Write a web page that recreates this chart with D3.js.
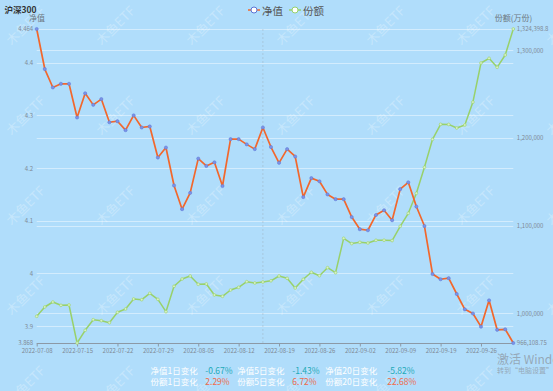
<!DOCTYPE html>
<html><head><meta charset="utf-8">
<script src="https://cdn.jsdelivr.net/npm/d3@7"></script>
<style>
html,body{margin:0;padding:0;background:#b0ddfb;}
svg{display:block;}
</style></head>
<body>
<svg id="c" width="553" height="391"></svg>
<script>
const dates = ["2022-07-08","2022-07-11","2022-07-12","2022-07-13","2022-07-14","2022-07-15","2022-07-18","2022-07-19","2022-07-20","2022-07-21","2022-07-22","2022-07-25","2022-07-26","2022-07-27","2022-07-28","2022-07-29","2022-08-01","2022-08-02","2022-08-03","2022-08-04","2022-08-05","2022-08-08","2022-08-09","2022-08-10","2022-08-11","2022-08-12","2022-08-15","2022-08-16","2022-08-17","2022-08-18","2022-08-19","2022-08-22","2022-08-23","2022-08-24","2022-08-25","2022-08-26","2022-08-29","2022-08-30","2022-08-31","2022-09-01","2022-09-02","2022-09-05","2022-09-06","2022-09-07","2022-09-08","2022-09-09","2022-09-13","2022-09-14","2022-09-15","2022-09-16","2022-09-19","2022-09-20","2022-09-21","2022-09-22","2022-09-23","2022-09-26","2022-09-27","2022-09-28","2022-09-29","2022-09-30"];
const netValue = [4.464,4.388,4.353,4.360,4.360,4.296,4.342,4.320,4.331,4.287,4.289,4.272,4.300,4.277,4.279,4.220,4.239,4.167,4.122,4.153,4.218,4.204,4.211,4.166,4.255,4.255,4.245,4.236,4.277,4.240,4.210,4.236,4.222,4.145,4.181,4.175,4.150,4.141,4.141,4.107,4.084,4.082,4.111,4.120,4.101,4.160,4.173,4.127,4.090,3.999,3.989,3.991,3.961,3.932,3.924,3.899,3.949,3.893,3.894,3.868];
const shares = [996575,1007187,1012892,1009127,1009469,966108.75,980600,992696,991555,989273,1001140,1004905,1016315,1015517,1022819,1015973,1001824,1030807,1039136,1042560,1033089,1033500,1020880,1019396,1026585,1029666,1036056,1034572,1035713,1037083,1042560,1039935,1028867,1038794,1046782,1042902,1052030,1046325,1085577,1079556,1081013,1080214,1083295,1083400,1083000,1099270,1114104,1136924,1166592,1198541,1215657,1215500,1211435,1214858,1241004,1285603,1290966,1280697,1294749,1324398.8];
const leftTicks = [3.868,3.9,4,4.1,4.2,4.3,4.4,4.464];
const rightTicks = [966108.75,1000000,1100000,1200000,1300000,1324398.8];
const seriesNames = ["净值","份额"];
const statLabelsNet = ["净值1日变化","净值5日变化","净值20日变化"];
const statValuesNet = ["-0.67%","-1.43%","-5.82%"];
const statLabelsShare = ["份额1日变化","份额5日变化","份额20日变化"];
const statValuesShare = ["2.29%","6.72%","22.68%"];
const title = "沪深300";

const FONT = "'Noto Sans CJK SC','Noto Sans',sans-serif";
const svg = d3.select("#c").style("font-family", FONT);
const W = 553, H = 391;
const x0 = 36.7, x1 = 513.3, yTop = 29, yBot = 343;
const orange = "#f2672c", green = "#98d16b", pointBlue = "#5a74d6";

// watermark
const wm = svg.append("g");
for (let cy = 25; cy <= 385; cy += 90) {
  for (let cx = 25; cx <= 565; cx += 90) {
    wm.append("text").attr("transform", `translate(${cx},${cy}) rotate(-45)`)
      .attr("text-anchor","middle").attr("dominant-baseline","central")
      .attr("font-size", 13).attr("fill","#ffffff").attr("fill-opacity",0.28)
      .text("木鱼ETF");
  }
}

const x = d3.scalePoint().domain(dates).range([x0, x1]);
const yL = d3.scaleLinear().domain([3.868, 4.464]).range([yBot, yTop]);
const yR = d3.scaleLinear().domain([966108.75, 1324398.8]).range([yBot, yTop]);

// grid lines
const grid = svg.append("g").attr("stroke","#ffffff").attr("stroke-opacity",0.45).attr("stroke-width",1);
leftTicks.filter(t => t !== 3.868).forEach(t => {
  grid.append("line").attr("x1", x0).attr("x2", x1).attr("y1", Math.round(yL(t))+0.5).attr("y2", Math.round(yL(t))+0.5);
});
rightTicks.filter(t => t !== 966108.75 && t !== 1324398.8).forEach(t => {
  grid.append("line").attr("x1", x0).attr("x2", x1).attr("y1", Math.round(yR(t))+0.5).attr("y2", Math.round(yR(t))+0.5);
});

// axis pointer line
svg.append("line").attr("x1", x(dates[28])).attr("x2", x(dates[28])).attr("y1", yTop).attr("y2", yBot)
  .attr("stroke","#9aa6b2").attr("stroke-opacity",0.5).attr("stroke-dasharray","2,2").attr("stroke-width",0.8);

// x axis
const xAxis = d3.axisBottom(x).tickValues(dates.filter((d,i) => i % 5 === 0)).tickSize(3).tickPadding(2);
const gx = svg.append("g").attr("transform", `translate(0,${yBot + 0.5})`).call(xAxis);
gx.select(".domain").attr("stroke","#8c99a6").attr("d", `M${x0},0H${x1}`);
gx.selectAll(".tick line").attr("stroke","#8c99a6");
gx.selectAll(".tick text").attr("fill","#7f8a96").attr("font-size",6).attr("font-family",FONT);

// left axis
const fmtL = d => String(+d.toFixed(3));
const yAxisL = d3.axisLeft(yL).tickValues(leftTicks).tickFormat(fmtL).tickSize(0).tickPadding(3.5);
const gl = svg.append("g").attr("transform", `translate(${x0},0)`).call(yAxisL);
gl.select(".domain").remove();
gl.selectAll(".tick text").attr("fill","#7f8a96").attr("font-size",6).attr("font-family",FONT);

// right axis
const yAxisR = d3.axisRight(yR).tickValues(rightTicks).tickFormat(d3.format(",")).tickSize(0).tickPadding(3.5);
const gr = svg.append("g").attr("transform", `translate(${x1},0)`).call(yAxisR);
gr.select(".domain").remove();
gr.selectAll(".tick text").attr("fill","#7f8a96").attr("font-size",6).attr("font-family",FONT);

// axis names
svg.append("text").attr("x", 37).attr("y", 17.5).attr("text-anchor","middle").attr("dominant-baseline","central")
  .attr("font-size",8).attr("fill","#6d7780").text("净值");
svg.append("text").attr("x", 513.5).attr("y", 17.5).attr("text-anchor","middle").attr("dominant-baseline","central")
  .attr("font-size",8).attr("fill","#6d7780").text("份额(万份)");

// title
svg.append("text").attr("x", 4.5).attr("y", 8.5).attr("dominant-baseline","central")
  .attr("font-size",8.5).attr("font-weight","bold").attr("fill","#333").text(title);

// share line
const lineR = d3.line().x((d,i) => x(dates[i])).y(d => yR(d));
svg.append("path").datum(shares).attr("d", lineR).attr("fill","none").attr("stroke",green).attr("stroke-width",1.5).attr("stroke-linejoin","round");
svg.append("g").selectAll("circle").data(shares).join("circle")
  .attr("cx",(d,i)=>x(dates[i])).attr("cy",d=>yR(d)).attr("r",1.4)
  .attr("fill","#d8f0c6").attr("stroke",green).attr("stroke-width",0.6);

// net value line
const lineL = d3.line().x((d,i) => x(dates[i])).y(d => yL(d));
svg.append("path").datum(netValue).attr("d", lineL).attr("fill","none").attr("stroke",orange).attr("stroke-width",1.7).attr("stroke-linejoin","round");
svg.append("g").selectAll("circle").data(netValue).join("circle")
  .attr("cx",(d,i)=>x(dates[i])).attr("cy",d=>yL(d)).attr("r",1.6)
  .attr("fill","#7b93e6").attr("stroke",pointBlue).attr("stroke-width",0.5);

// legend
const legendItems = [{name: seriesNames[0], color: orange, ring: pointBlue, x: 248}, {name: seriesNames[1], color: green, ring: green, x: 289}];
legendItems.forEach(it => {
  const g = svg.append("g");
  g.append("line").attr("x1", it.x).attr("x2", it.x + 12).attr("y1", 10).attr("y2", 10).attr("stroke", it.color).attr("stroke-width",1.5);
  g.append("circle").attr("cx", it.x + 6).attr("cy", 10).attr("r", 3).attr("fill","#fff").attr("stroke", it.ring).attr("stroke-width",1);
  g.append("text").attr("x", it.x + 14).attr("y", 10).attr("dominant-baseline","central").attr("font-size",10.5).attr("fill","#555").text(it.name);
});

// stats
const labelX = [150.5, 237.3, 325.3];
const valX = [205.3, 292.3, 387.3];
[[statLabelsNet, statValuesNet, 369.5, "#22a9b8"], [statLabelsShare, statValuesShare, 381.3, "#ef6a4a"]].forEach(([labs, vals, yy, col]) => {
  labs.forEach((l,i) => {
    svg.append("text").attr("x", labelX[i]).attr("y", yy).attr("dominant-baseline","central").attr("font-size",8.5).attr("fill","#ffffff").text(l);
    svg.append("text").attr("x", valX[i]).attr("y", yy).attr("dominant-baseline","central").attr("font-size",8.5).attr("fill",col).text(vals[i]);
  });
});

// OS activation watermark
svg.append("text").attr("x", 497).attr("y", 358).attr("dominant-baseline","central").attr("font-size",12).attr("fill","#8e9aa6").attr("fill-opacity",0.8).text("激活 Windows");
svg.append("text").attr("x", 497).attr("y", 370).attr("dominant-baseline","central").attr("font-size",7).attr("fill","#8e9aa6").attr("fill-opacity",0.8).text("转到“电脑设置”以激活 Windows。");
</script>
</body></html>
